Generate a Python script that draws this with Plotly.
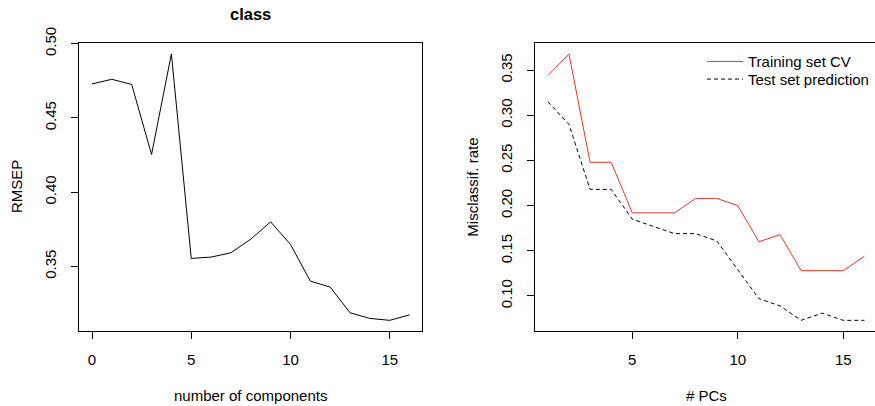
import plotly.graph_objects as go

# ---- data ----
n_components = list(range(0, 17))
rmsep = [0.4729, 0.4760, 0.4725, 0.4254, 0.4931, 0.3554, 0.3563, 0.3592, 0.3684,
         0.3800, 0.3648, 0.3401, 0.3361, 0.3188, 0.3150, 0.3137, 0.3174]

n_pcs = list(range(1, 17))
train_cv = [0.344, 0.368, 0.248, 0.248, 0.192, 0.192, 0.192, 0.208, 0.208,
            0.200, 0.160, 0.168, 0.128, 0.128, 0.128, 0.144]
test_pred = [0.315, 0.290, 0.218, 0.218, 0.185, 0.177, 0.169, 0.169, 0.161,
             0.129, 0.097, 0.089, 0.073, 0.081, 0.073, 0.073]

left_xticks = [0, 5, 10, 15]
left_yticks = [0.35, 0.40, 0.45, 0.50]
right_xticks = [5, 10, 15]
right_yticks = [0.10, 0.15, 0.20, 0.25, 0.30, 0.35]

W, H = 875, 406
FONT = "Liberation Sans, Arial, Helvetica, sans-serif"
FS = 15


def padded(lo, hi, frac=0.04):
    d = (hi - lo) * frac
    return [lo - d, hi + d]


fig = go.Figure()

fig.add_trace(go.Scatter(x=n_components, y=rmsep, mode="lines",
                         line=dict(color="black", width=1),
                         showlegend=False, xaxis="x", yaxis="y"))

fig.add_trace(go.Scatter(x=n_pcs, y=train_cv, mode="lines", name="Training set CV",
                         line=dict(color="#E8352C", width=1),
                         xaxis="x2", yaxis="y2", legend="legend"))
fig.add_trace(go.Scatter(x=n_pcs, y=test_pred, mode="lines", name="Test set prediction",
                         line=dict(color="black", width=1, dash="4px,3px"),
                         xaxis="x2", yaxis="y2", legend="legend2"))

axis_common = dict(showgrid=False, zeroline=False, showline=True, linecolor="black",
                   linewidth=1, ticks="outside", ticklen=7, tickwidth=1, tickcolor="black",
                   tickfont=dict(family=FONT, size=FS, color="black"), automargin=False)

y_lo, y_hi = 0.1847, 0.8935

legend_common = dict(xanchor="left", yanchor="middle", bgcolor="rgba(0,0,0,0)",
                     borderwidth=0, itemwidth=36,
                     font=dict(family=FONT, size=FS, color="black"))

fig.update_layout(
    width=W, height=H,
    margin=dict(l=0, r=0, t=0, b=0),
    paper_bgcolor="white", plot_bgcolor="white",
    font=dict(family=FONT, size=FS, color="black"),
    xaxis=dict(domain=[79.3 / W, 422.3 / W], range=padded(0, 16), mirror=True,
               tickvals=left_xticks, anchor="y", ticklabelstandoff=8, **axis_common),
    yaxis=dict(domain=[y_lo, y_hi], range=padded(min(rmsep), max(rmsep)), mirror=True,
               tickvals=left_yticks, tickformat=".2f", tickangle=-90, anchor="x",
               ticklabelstandoff=9, **axis_common),
    xaxis2=dict(domain=[535.2 / W, 1.0], range=[0.4, 16.5], mirror=True,
                tickvals=right_xticks, anchor="y2", ticklabelstandoff=8, **axis_common),
    yaxis2=dict(domain=[y_lo, y_hi],
                range=padded(min(test_pred + train_cv), max(test_pred + train_cv)),
                mirror=False, tickvals=right_yticks, tickformat=".2f", tickangle=-90,
                anchor="x2", ticklabelstandoff=9, **axis_common),
    legend=dict(x=702 / W, y=(H - 61.7) / H, **legend_common),
    legend2=dict(x=702 / W, y=(H - 79.3) / H, **legend_common),
)

annotations = [
    dict(text="<b>class</b>", x=250.8 / W, y=(H - 14) / H, font=dict(size=16.5)),
    dict(text="number of components", x=250.8 / W, y=(H - 395) / H),
    dict(text="# PCs", x=706 / W, y=(H - 395) / H),
    dict(text="RMSEP", x=16 / W, y=(H - 187) / H, textangle=-90),
    dict(text="Misclassif. rate", x=471.7 / W, y=(H - 187) / H, textangle=-90),
]
for a in annotations:
    fig.add_annotation(xref="paper", yref="paper", showarrow=False,
                       xanchor="center", yanchor="middle", **a)

fig.write_html("out.html")
